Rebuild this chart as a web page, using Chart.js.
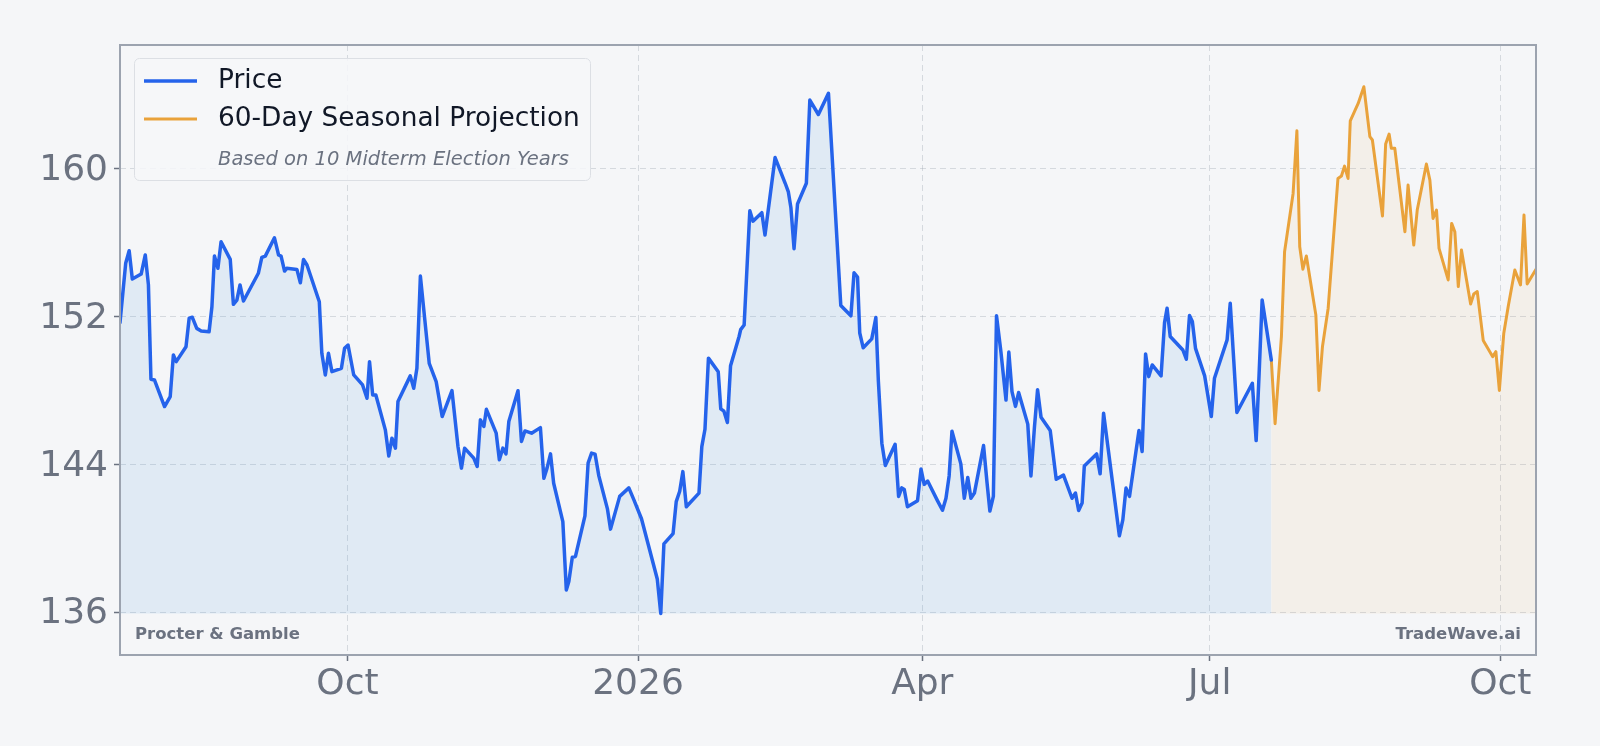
<!DOCTYPE html>
<html>
<head>
<meta charset="utf-8">
<script src="https://cdn.jsdelivr.net/npm/chart.js@4.4.1/dist/chart.umd.min.js"></script>
<style>
    html, body { margin: 0; padding: 0; background: #f5f6f8; }
    canvas { display: block; }
</style>
</head>
<body>
<canvas id="myChart" width="1600" height="746"></canvas>
<script>
// Días desde el 21 jul 2025 (primer dato) y precio de cierre
const priceDays = [
    0, 1.8, 2.9, 3.9, 6.7, 8.0, 9.0, 9.8, 10.9, 14.1, 15.9, 16.9, 17.8, 20.9, 21.9, 22.9,
    24.3, 25.7, 28.2, 29.1, 29.9, 31.0, 32.0, 34.9, 35.9, 37.0, 38.0, 39.1, 43.8, 44.9, 46.0,
    48.9, 50.2, 51.0, 52.1, 52.8, 56.0, 57.1, 58.1, 59.2, 63.1, 63.9, 65.0, 66.0, 67.1, 70.1,
    71.1, 72.2, 74.0, 76.8, 78.2, 79.0, 80.0, 81.0, 84.0, 85.1, 86.1, 87.2, 88.0, 91.9, 93.0,
    94.0, 95.1, 97.9, 100.1, 102.0, 105.1, 107.0, 108.1, 109.1, 112.0, 113.1, 114.1, 115.2,
    116.0, 119.1, 120.1, 121.2, 122.2, 123.1, 126.0, 127.1, 128.2, 130.3, 133.1, 134.2, 135.2,
    136.3, 137.3, 140.2, 141.3, 142.1, 143.2, 144.2, 147.2, 148.2, 149.3, 150.4, 151.6, 154.3,
    155.3, 158.2, 161.1, 162.7, 165.1, 170.1, 171.2, 172.2, 175.1, 176.1, 177.2, 178.2, 179.3,
    183.3, 184.2, 185.2, 186.3, 189.4, 190.2, 191.2, 192.3, 193.3, 196.0, 196.5, 197.6, 199.4,
    200.4, 203.2, 204.2, 207.4, 210.6, 211.6, 212.4, 213.4, 214.5, 217.3, 218.4, 221.1, 224.3,
    228.2, 231.4, 232.4, 233.5, 234.2, 235.3, 238.0, 239.3, 240.1, 241.2, 242.3, 245.4, 246.5,
    247.5, 248.3, 249.3, 252.5, 253.6, 254.6, 255.7, 258.8, 260.4, 261.5, 262.5, 263.4, 266.2,
    267.3, 268.4, 269.4, 270.5, 273.4, 274.5, 275.4, 276.5, 277.5, 278.9, 280.5, 281.4, 282.4,
    283.5, 284.5, 287.4, 288.4, 289.5, 290.5, 291.6, 294.5, 296.4, 298.7, 301.4, 302.5, 303.5,
    304.6, 305.3, 309.2, 310.3, 311.4, 316.4, 317.5, 318.5, 319.6, 322.6, 323.6, 324.7, 325.7,
    326.8, 329.6, 330.7, 331.5, 332.5, 336.5, 337.6, 338.6, 339.5, 340.5, 343.4, 345.5, 346.5,
    350.5, 351.5, 352.6, 353.6, 358.5, 359.7, 360.6, 361.6, 364.5
];
const priceValues = [
    151.66, 154.87, 155.55, 154.02, 154.29, 155.32, 153.70, 148.60, 148.56, 147.12, 147.66, 149.91,
    149.55, 150.36, 151.90, 151.95, 151.35, 151.21, 151.17, 152.52, 155.26, 154.60, 156.04, 155.08,
    152.65, 152.88, 153.70, 152.83, 154.33, 155.19, 155.26, 156.25, 155.32, 155.26, 154.45, 154.60,
    154.54, 153.82, 155.08, 154.78, 152.79, 150.00, 148.83, 150.00, 149.01, 149.19, 150.27, 150.45,
    148.83, 148.29, 147.57, 149.55, 147.75, 147.75, 145.86, 144.45, 145.41, 144.87, 147.39, 148.78,
    148.11, 149.19, 154.18, 149.46, 148.47, 146.58, 147.98, 144.96, 143.79, 144.87, 144.33, 143.88,
    146.40, 146.04, 146.97, 145.68, 144.24, 144.87, 144.56, 146.31, 147.98, 145.23, 145.80, 145.68,
    145.98, 143.24, 143.79, 144.56, 142.97, 140.90, 137.20, 137.66, 138.97, 139.01, 141.21, 144.06,
    144.60, 144.55, 143.37, 141.60, 140.49, 142.26, 142.72, 142.07, 141.05, 137.79, 135.93, 139.69,
    140.25, 141.98, 142.54, 143.60, 141.70, 142.44, 144.95, 145.89, 149.74, 149.00, 147.00, 146.87,
    146.26, 149.33, 150.91, 151.28, 151.53, 157.71, 157.15, 157.61, 156.40, 160.59, 159.20, 158.73,
    157.89, 155.66, 158.08, 159.20, 163.70, 162.92, 164.07, 152.59, 152.03, 154.36, 154.13, 151.10,
    150.30, 150.78, 151.94, 148.49, 145.14, 143.93, 145.08, 142.26, 142.72, 142.63, 141.70, 142.03,
    143.74, 142.91, 143.09, 142.03, 141.51, 142.16, 143.37, 145.79, 144.02, 142.16, 143.28, 142.16,
    142.44, 145.01, 143.00, 141.47, 142.26, 152.03, 150.07, 147.47, 150.07, 147.93, 147.13, 147.88,
    146.17, 143.37, 145.98, 148.03, 146.54, 145.83, 143.19, 143.41, 142.16, 142.44, 141.50, 141.90,
    143.91, 144.56, 143.48, 146.76, 140.13, 141.00, 142.71, 142.26, 145.82, 144.69, 149.97, 148.74,
    149.37, 148.78, 151.66, 152.44, 150.91, 150.18, 149.68, 152.04, 151.72, 150.27, 148.78, 146.58,
    148.65, 150.73, 152.71, 149.64, 146.80, 148.38, 145.28, 148.74, 152.89, 149.64
];

// Proyección estacional de 60 sesiones (mismo eje de días)
const projDays = [
    364.5, 365.7, 367.7, 368.7, 371.4, 372.6, 373.5, 374.5, 375.6, 378.6, 379.6, 380.7, 382.5,
    385.6, 386.7, 387.7, 388.8, 389.5, 392.0, 393.8, 395.7, 396.5, 399.7, 400.7, 401.8, 402.5,
    403.6, 406.8, 407.8, 409.6, 410.7, 413.6, 414.7, 415.7, 416.8, 417.6, 420.5, 421.6, 422.6,
    423.7, 424.7, 427.6, 428.6, 429.7, 431.6, 434.6, 435.6, 436.7, 438.1, 439.5, 441.6, 443.4,
    444.5, 445.5, 448.3
];
const projValues = [
    149.64, 146.19, 150.91, 155.50, 158.65, 162.04, 155.77, 154.55, 155.27, 152.08, 147.99, 150.37,
    152.44, 159.46, 159.59, 160.13, 159.46, 162.58, 163.52, 164.42, 161.72, 161.54, 157.43, 161.32,
    161.86, 161.09, 161.09, 156.58, 159.10, 155.86, 157.75, 160.24, 159.37, 157.30, 157.75, 155.68,
    153.97, 157.03, 156.58, 153.61, 155.59, 152.67, 153.21, 153.34, 150.69, 149.82, 150.09, 147.99,
    151.09, 152.53, 154.51, 153.70, 157.48, 153.75, 154.55
];

// Ejes: días de las marcas y sus etiquetas
const xTickDays = [72, 164, 254, 345, 437];
const xTickLabels = ['Oct', '2026', 'Apr', 'Jul', 'Oct'];
const yTickValues = [136, 144, 152, 160];

const seriesLabels = ['Price', '60-Day Seasonal Projection'];
const legendNote = 'Based on 10 Midterm Election Years';
const companyName = 'Procter & Gamble';
const brandName = 'TradeWave.ai';

const FONT = '"DejaVu Sans", "Liberation Sans", sans-serif';
const blue = '#2563eb';
const orange = '#e9a23b';
const grayText = '#6b7280';
const gridColor = 'rgba(156, 163, 175, 0.35)';

// Base del relleno: el mínimo del precio
const fillBase = Math.min(...priceValues);

function toPoints(days, values) {
    return days.map((d, i) => ({ x: d, y: values[i] }));
}

// Marco, leyenda y marcas de agua dibujados a mano
const overlayPlugin = {
    id: 'overlay',
    afterDraw(chart) {
        const ctx = chart.ctx;
        const a = chart.chartArea;
        ctx.save();

        // Marco completo del área de datos
        ctx.strokeStyle = '#9ca3af';
        ctx.lineWidth = 2;
        ctx.strokeRect(a.left, a.top, a.right - a.left, a.bottom - a.top);

        // Caja de la leyenda con esquinas redondeadas
        const bx = 134.5, by = 58.5, bw = 456, bh = 122, r = 5;
        ctx.beginPath();
        ctx.moveTo(bx + r, by);
        ctx.arcTo(bx + bw, by, bx + bw, by + bh, r);
        ctx.arcTo(bx + bw, by + bh, bx, by + bh, r);
        ctx.arcTo(bx, by + bh, bx, by, r);
        ctx.arcTo(bx, by, bx + bw, by, r);
        ctx.closePath();
        ctx.fillStyle = 'rgba(246, 247, 249, 0.85)';
        ctx.fill();
        ctx.strokeStyle = '#dcdfe4';
        ctx.lineWidth = 1;
        ctx.stroke();

        const rows = [81, 119];
        chart.data.datasets.forEach((ds, i) => {
            ctx.beginPath();
            ctx.strokeStyle = ds.borderColor;
            ctx.lineWidth = ds.borderWidth;
            ctx.moveTo(144, rows[i]);
            ctx.lineTo(197, rows[i]);
            ctx.stroke();
            ctx.fillStyle = '#111827';
            ctx.font = '26.4px ' + FONT;
            ctx.textBaseline = 'middle';
            ctx.textAlign = 'left';
            ctx.fillText(ds.label, 218, rows[i]);
        });
        ctx.fillStyle = grayText;
        ctx.font = 'italic 19.5px ' + FONT;
        ctx.fillText(legendNote, 218, 160);

        // Marcas de agua
        ctx.font = 'bold 16.5px ' + FONT;
        ctx.fillText(companyName, 135, 635);
        ctx.textAlign = 'right';
        ctx.fillText(brandName, 1521, 635);
        ctx.restore();
    }
};

const ctx = document.getElementById('myChart').getContext('2d');
window.myChart = new Chart(ctx, {
    type: 'line',
    data: {
        datasets: [{
            label: seriesLabels[0],
            data: toPoints(priceDays, priceValues),
            borderColor: blue,
            borderWidth: 3.5,
            backgroundColor: 'rgba(74, 144, 226, 0.12)',
            fill: { value: fillBase }
        }, {
            label: seriesLabels[1],
            data: toPoints(projDays, projValues),
            borderColor: orange,
            borderWidth: 3,
            backgroundColor: 'rgba(233, 162, 59, 0.08)',
            fill: { value: fillBase }
        }]
    },
    options: {
        responsive: false,
        animation: false,
        events: [],
        layout: { padding: { top: 45, right: 64, left: 0, bottom: 0 } },
        elements: {
            point: { radius: 0 },
            line: { tension: 0, borderJoinStyle: 'round', borderCapStyle: 'round' }
        },
        plugins: {
            legend: { display: false },
            tooltip: { enabled: false }
        },
        scales: {
            x: {
                type: 'linear',
                min: priceDays[0],
                max: projDays[projDays.length - 1],
                afterBuildTicks: (axis) => { axis.ticks = xTickDays.map(v => ({ value: v })); },
                afterFit: (axis) => { axis.height = 91; },
                grid: { color: gridColor, lineWidth: 1, tickLength: 6, tickColor: grayText, tickWidth: 1.5 },
                border: { display: false, dash: [6, 4] },
                ticks: {
                    color: grayText,
                    font: { family: FONT, size: 36 },
                    padding: 2,
                    maxRotation: 0,
                    autoSkip: false,
                    callback: (value, index) => xTickLabels[index]
                }
            },
            y: {
                min: 133.68,
                max: 166.68,
                afterBuildTicks: (axis) => { axis.ticks = yTickValues.map(v => ({ value: v })); },
                afterFit: (axis) => { axis.width = 120; },
                grid: { color: gridColor, lineWidth: 1, tickLength: 6, tickColor: grayText, tickWidth: 1.5 },
                border: { display: false, dash: [6, 4] },
                ticks: {
                    color: grayText,
                    font: { family: FONT, size: 36 },
                    padding: 6,
                    labelOffset: 2,
                    callback: (value) => value
                }
            }
        }
    },
    plugins: [overlayPlugin]
});
</script>
</body>
</html>
